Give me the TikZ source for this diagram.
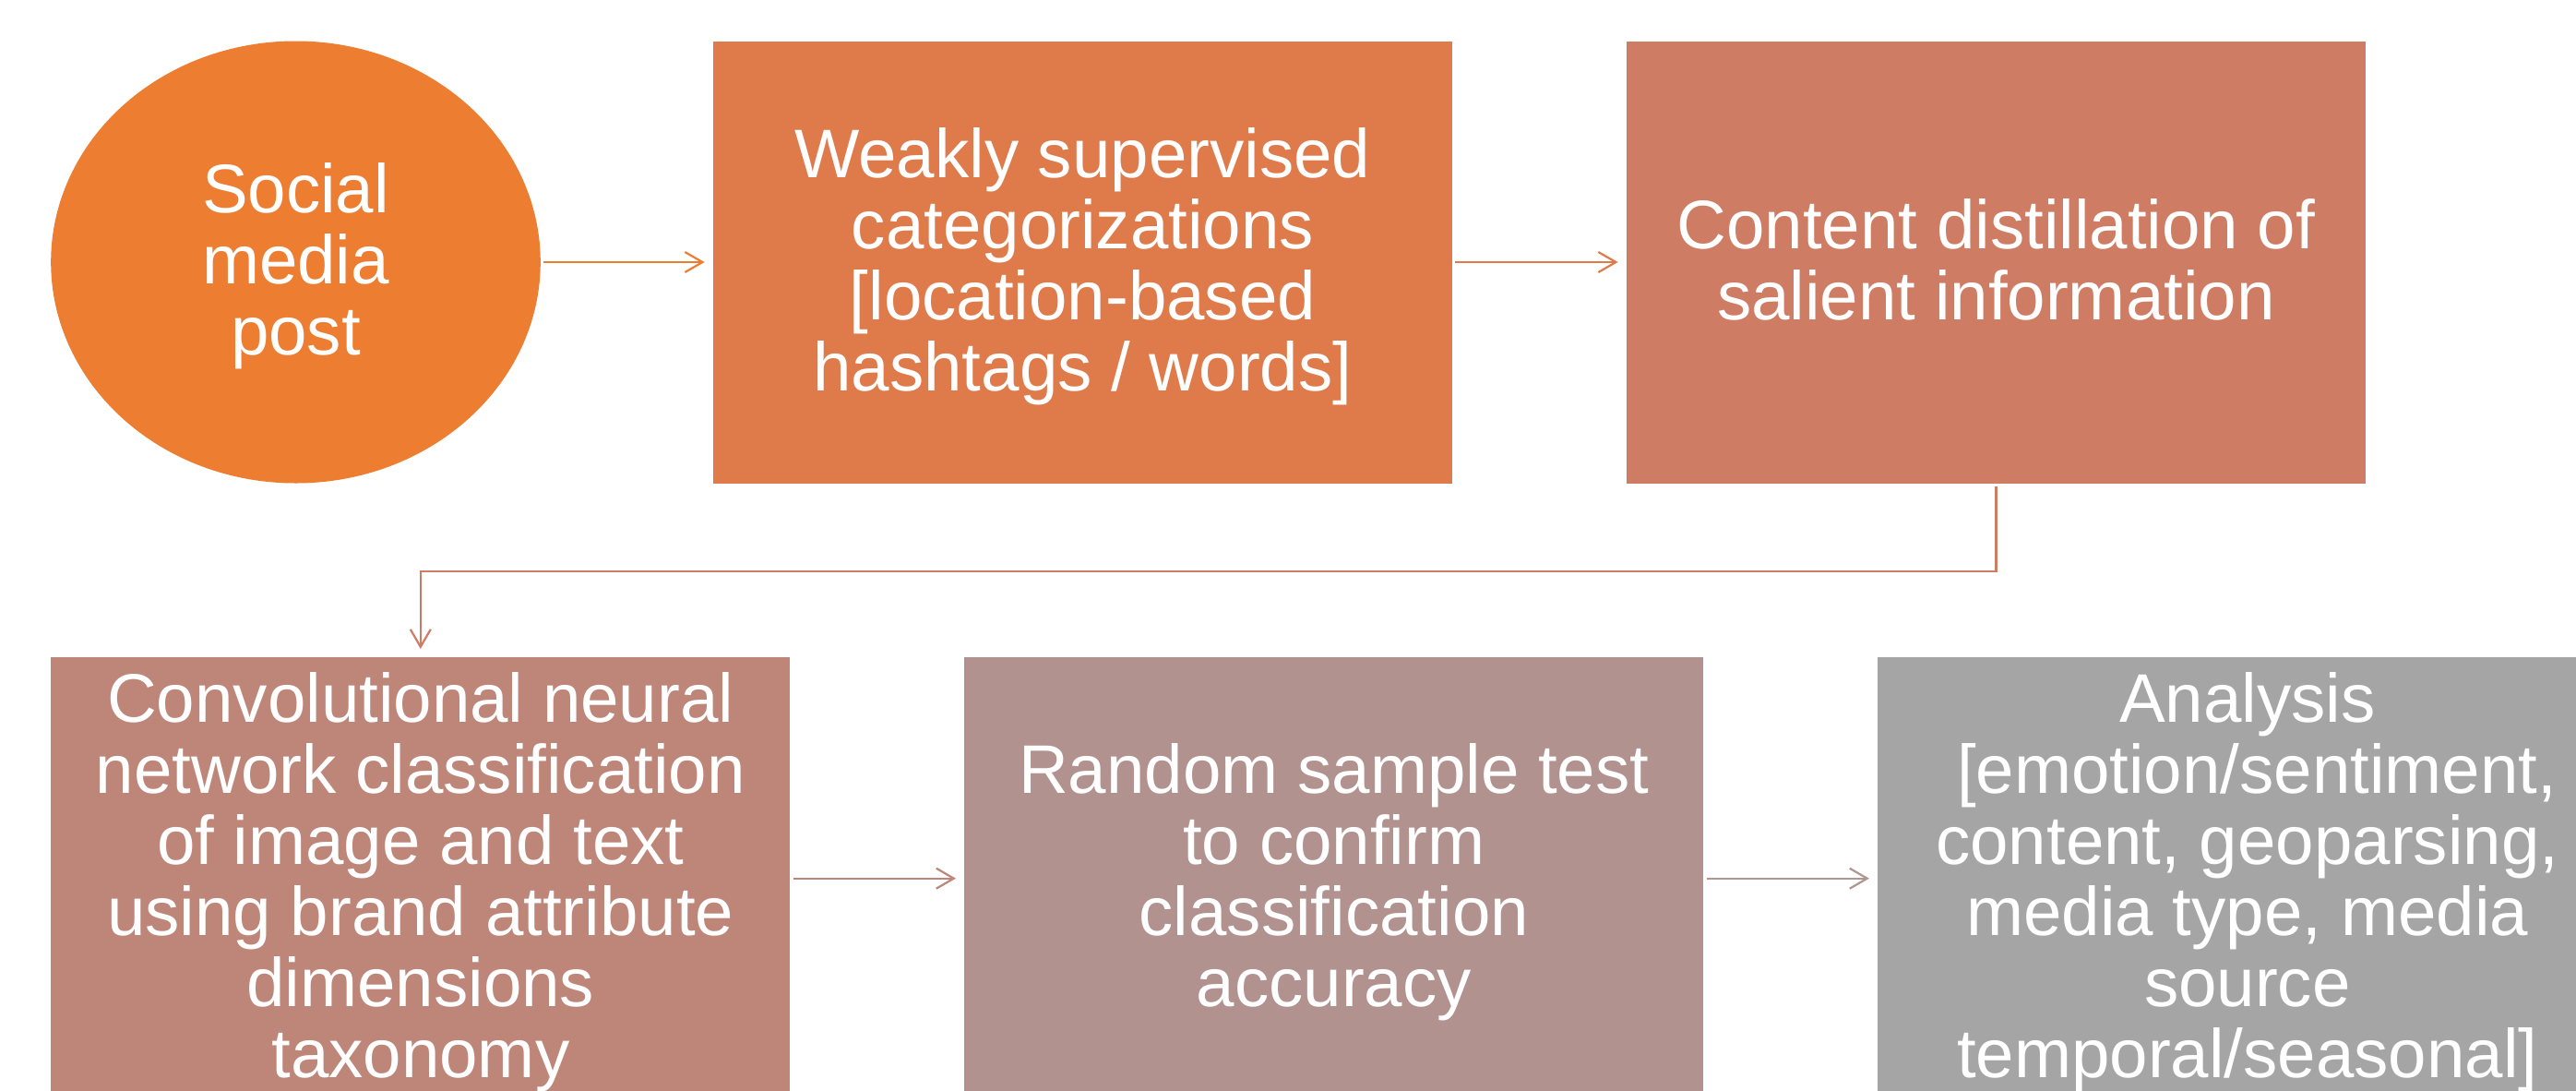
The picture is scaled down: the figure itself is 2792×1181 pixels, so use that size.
\documentclass[tikz,border=0pt]{standalone}
\usepackage{fontspec}
\setmainfont{Liberation Sans}
\usetikzlibrary{shapes.geometric,arrows.meta}

\definecolor{cA}{RGB}{237,125,49}
\definecolor{cB}{RGB}{223,123,75}
\definecolor{cC}{RGB}{206,125,100}
\definecolor{cD}{RGB}{190,134,121}
\definecolor{cE}{RGB}{177,146,143}
\definecolor{cF}{RGB}{165,165,165}

% fixed line boxes for the first and last lines, so every block is centred alike
\newcommand\hdtop{\rule{0pt}{63pt}}
\newcommand\hdbot{\rule[-16pt]{0pt}{16pt}}

\tikzset{
  label text/.style={text=white, align=center,
    font=\fontsize{74.5}{77}\selectfont},
  stage/.style={rectangle, fill=#1, draw=none, minimum width=801.3pt,
    minimum height=479pt, inner sep=0pt, label text},
  conn/.style={draw=#1, line width=2.2pt,
    -{Straight Barb[length=19pt,width=22pt,line width=2.2pt]},
    shorten <=3pt, shorten >=9pt}
}

\begin{document}
\begin{tikzpicture}[x=1pt,y=-1pt]
\useasboundingbox (0,0) rectangle (2792,1181);

\node[ellipse, fill=cA, minimum width=530.6pt, minimum height=479pt,
  inner sep=0pt, label text] (post) at (320.5,284)
  {\hdtop Social\\media\\post\hdbot};

\node[stage=cB] (weak) at (1173.4,284)
  {\hdtop Weakly supervised\\categorizations\\{}[location-based\\hashtags / words]\hdbot};
\node[stage=cC] (distil) at (2163.4,284)
  {\hdtop Content distillation of\\salient information\hdbot};
\node[stage=cD] (cnn) at (455.8,951.7)
  {\hdtop Convolutional neural\\network classification\\of image and text\\using brand attribute\\dimensions\\taxonomy\hdbot};
\node[stage=cE] (sample) at (1445.8,951.7)
  {\hdtop Random sample test\\to confirm\\classification\\accuracy\hdbot};
\node[stage=cF] (analysis) at (2435.8,951.7)
  {\hdtop Analysis\\{} [emotion/sentiment,\\content, geoparsing,\\media type, media\\source\\temporal/seasonal]\hdbot};

\coordinate (turn) at (2163.4,619);

\draw[conn=cA] (post) -- (weak);
\draw[conn=cB] (weak) -- (distil);
\draw[conn=cC] (distil.south) -- (turn) -| (cnn.north);
\draw[conn=cD] (cnn) -- (sample);
\draw[conn=cE!80!cF] (sample) -- (analysis);
\end{tikzpicture}
\end{document}
